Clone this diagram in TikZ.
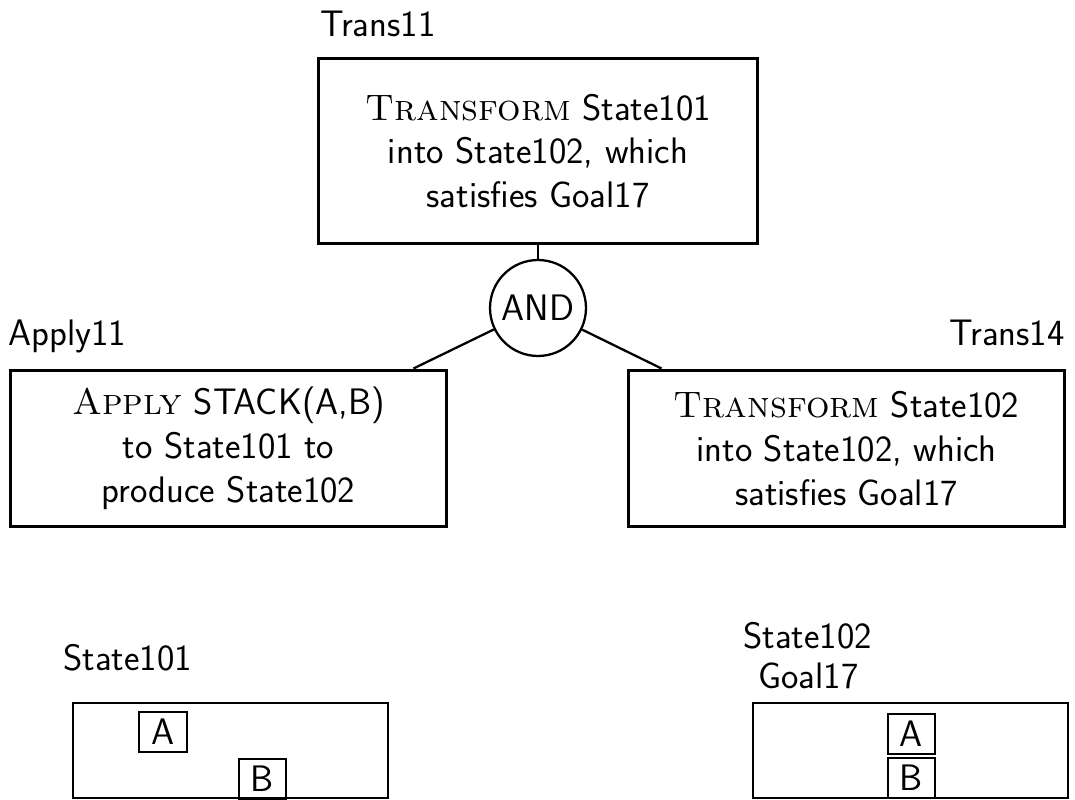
\documentclass[tikz,border=0pt]{standalone}
\usepackage{fontspec}
\usetikzlibrary{calc}
\tikzset{
  goalbox/.style={draw,line width=1.7pt,align=center,inner sep=0pt,
    minimum width=8.74cm,minimum height=3.14cm},
  worldbox/.style={draw,line width=1.5pt,inner sep=0pt,
    minimum width=6.3cm,minimum height=1.9cm},
  block/.style={draw,line width=1.2pt,inner sep=0pt,
    minimum width=0.95cm,minimum height=0.8cm},
  tag/.style={inner sep=0pt,anchor=base west},
}
\newcommand{\opname}[1]{\textrm{\textsc{#1}}}

\begin{document}
\begin{tikzpicture}[x=0.02cm,y=-0.02cm,font=\sffamily\fontsize{21}{25}\selectfont]
\useasboundingbox (0,0) rectangle (1075,800);

        % goal tree
        \node (trans11) at (538,151)[goalbox,minimum width=8.8cm,minimum height=3.72cm]
            {\opname{Transform} State101\\into State102, which\\satisfies Goal17};
        \node (and) at (538,308)[circle,draw,line width=1.3pt,inner sep=0pt,minimum size=1.92cm]{AND};
        \node (apply11) at (228.5,448.5)[goalbox]
            {\opname{Apply} STACK(A,B)\\to State101 to\\produce State102};
        \node (trans14) at (846.5,448.5)[goalbox]
            {\opname{Transform} State102\\into State102, which\\satisfies Goal17};

        \draw[line width=1.3pt] (trans11.south) -- (and.north);
        \draw[line width=1.3pt] (and) -- ($(apply11.north east)+(-35,0)$);
        \draw[line width=1.3pt] (and) -- ($(trans14.north west)+(35,0)$);

        \node (lt11) at (320,37)[tag]{Trans11};
        \node (la11) at (8,346)[tag]{Apply11};
        \node (lt14) at (1065,346)[tag,anchor=base east]{Trans14};

        % states
        \node (state101) at (230.5,750.5)[worldbox]{};
        \node (a1) at (163,732)[block]{A};
        \node (b1) at (262.5,779)[block]{B};
        \node (state102) at (910.5,750.5)[worldbox]{};
        \node (a2) at (911.5,734)[block]{A};
        \node (b2) at (911.5,778)[block]{B};

        \node (ls101) at (63,670)[tag]{State101};
        \node (ls102) at (743,648)[tag]{State102};
        \node (lg17) at (758,688)[tag]{Goal17};

\end{tikzpicture}
\end{document}
